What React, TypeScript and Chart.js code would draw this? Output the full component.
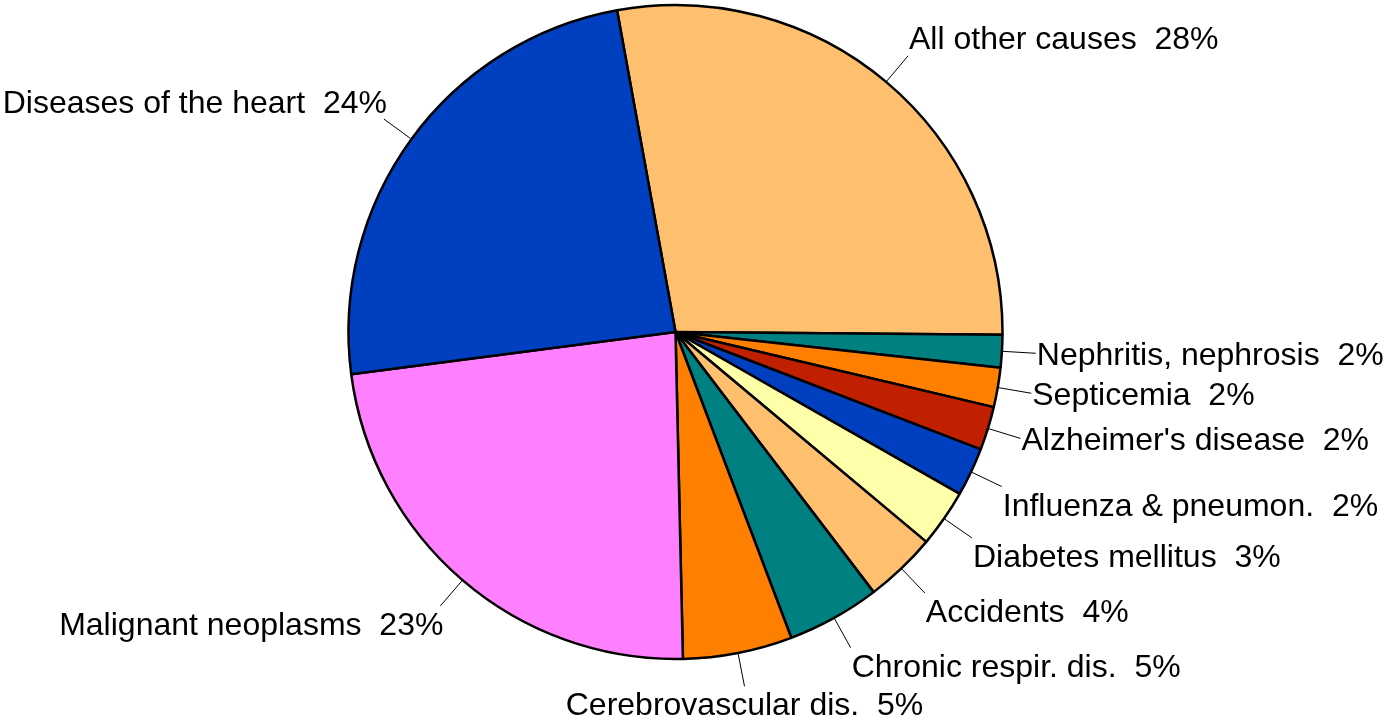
import React, { useEffect, useRef } from "react";
import { Chart, registerables } from "chart.js";

Chart.register(...registerables);

// Causes of death, clockwise from the top
const causes: string[] = [
  "All other causes",
  "Nephritis, nephrosis",
  "Septicemia",
  "Alzheimer's disease",
  "Influenza & pneumon.",
  "Diabetes mellitus",
  "Accidents",
  "Chronic respir. dis.",
  "Cerebrovascular dis.",
  "Malignant neoplasms",
  "Diseases of the heart",
];

// Share of all deaths (%)
const shares: number[] = [28.0, 1.6, 1.95, 2.15, 2.4, 2.85, 3.55, 4.6, 5.4, 23.3, 24.2];

const sliceColors: string[] = [
  "#FEC06E",
  "#008080",
  "#FF8000",
  "#C02000",
  "#0040C0",
  "#FFFFAA",
  "#FEC06E",
  "#008080",
  "#FF8000",
  "#FF80FF",
  "#0040C0",
];

const outerLabels = {
  id: "outerLabels",
  afterDatasetsDraw(chart: any) {
    const ctx = chart.ctx as CanvasRenderingContext2D;
    const meta = chart.getDatasetMeta(0);
    const data = chart.data.datasets[0].data as number[];
    const names = chart.data.labels as string[];
    const total = data.reduce((a, b) => a + b, 0);
    const t = Math.sin(Math.PI / 8);
    ctx.save();
    ctx.font = '32px "Liberation Sans", Arial, sans-serif';
    ctx.fillStyle = "#000";
    ctx.strokeStyle = "#000";
    ctx.lineWidth = 1;
    meta.data.forEach((arc: any, i: number) => {
      const { x, y, startAngle, endAngle, outerRadius } = arc.getProps(
        ["x", "y", "startAngle", "endAngle", "outerRadius"],
        true
      );
      const mid = (startAngle + endAngle) / 2;
      const dx = Math.cos(mid);
      const dy = Math.sin(mid);
      const r0 = outerRadius + 1;
      const r1 = outerRadius + 34;
      const x0 = x + dx * r0;
      const y0 = y + dy * r0;
      const x1 = x + dx * r1;
      const y1 = y + dy * r1;
      ctx.beginPath();
      ctx.moveTo(x0, y0);
      ctx.lineTo(x1, y1);
      ctx.stroke();
      const pct = Math.round((data[i] / total) * 100);
      const text = `${names[i]}  ${pct}%`;
      ctx.textAlign = dx > t ? "left" : dx < -t ? "right" : "center";
      ctx.textBaseline = "alphabetic";
      const ty = dy > t ? y1 + 29 : dy < -t ? y1 - 6.5 : y1 + 11.5;
      const tx = dx > t ? x1 + 1 : dx < -t ? x1 + 3 : x1;
      ctx.fillText(text, tx, ty);
    });
    ctx.restore();
  },
};

export default function App() {
  const canvasRef = useRef<HTMLCanvasElement | null>(null);

  useEffect(() => {
    if (!canvasRef.current) return;
    const chart = new Chart(canvasRef.current, {
      type: "pie",
      data: {
        labels: causes,
        datasets: [
          {
            data: shares,
            backgroundColor: sliceColors,
            borderColor: "#000000",
            borderWidth: 2.5,
          },
        ],
      },
      options: {
        responsive: false,
        animation: false,
        rotation: -10.3,
        radius: 327,
        layout: { padding: { left: 0, right: 33, top: 0, bottom: 59 } },
        plugins: {
          legend: { display: false },
          tooltip: { enabled: false },
        },
      } as any,
      plugins: [outerLabels],
    });
    return () => chart.destroy();
  }, []);

  return (
    <div style={{ position: "fixed", left: 0, top: 0, width: 1384, height: 723, background: "#fff" }}>
      <canvas ref={canvasRef} width={1384} height={723} style={{ width: 1384, height: 723 }} />
    </div>
  );
}
